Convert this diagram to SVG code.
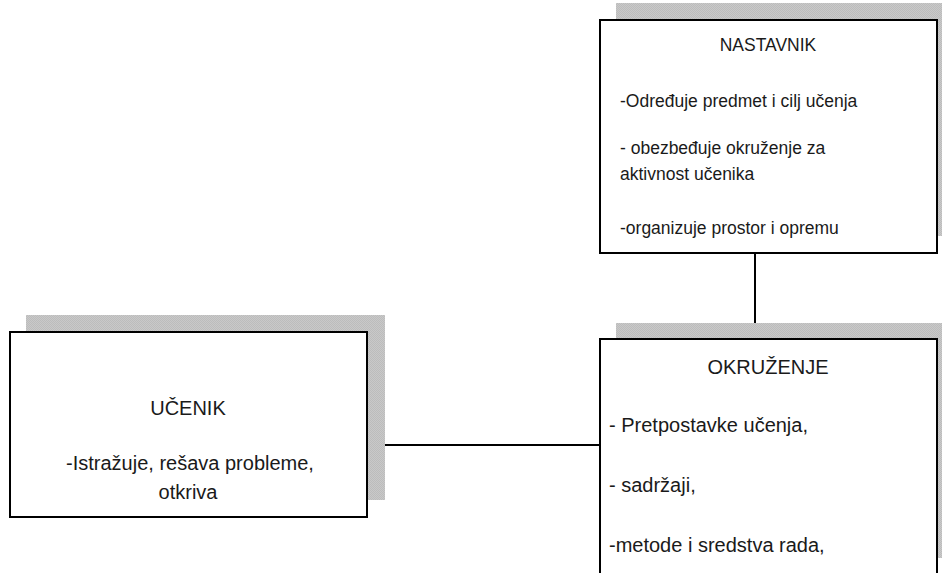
<svg xmlns="http://www.w3.org/2000/svg" width="942" height="573" viewBox="0 0 942 573">
<style>
.box{fill:#fff;stroke:#000;stroke-width:2}
.sh{fill:url(#chk)}
.t{font-family:"Liberation Sans",Arial,sans-serif;fill:#1a1a1a}
.s{font-size:17.5px}
.m{font-size:20px}
.c{text-anchor:middle}
.ln{stroke:#000;stroke-width:2;fill:none}
</style>
<defs>
<pattern id="chk" width="2" height="2" patternUnits="userSpaceOnUse">
<rect width="2" height="2" fill="#c9c9c9"/>
<rect width="1" height="1" fill="#bcbcbc"/>
<rect x="1" y="1" width="1" height="1" fill="#bcbcbc"/>
</pattern>
</defs>
<rect width="942" height="573" fill="#fff"/>
<g id="connectors">
<line class="ln" x1="755" y1="243" x2="755" y2="339"/>
<line class="ln" x1="378" y1="445" x2="600" y2="445"/>
</g>
<g id="nastavnik">
<rect class="sh" x="616" y="3" width="337" height="233"/>
<rect class="box" x="600" y="20" width="337" height="233"/>
<text class="t s c" x="768" y="51">NASTAVNIK</text>
<text class="t s" x="620" y="107">-Određuje predmet i cilj učenja</text>
<text class="t s" x="620" y="154">- obezbeđuje okruženje za</text>
<text class="t s" x="620" y="180">aktivnost učenika</text>
<text class="t s" x="620" y="234">-organizuje prostor i opremu</text>
</g>
<g id="okruzenje">
<rect class="sh" x="616" y="323" width="337" height="235"/>
<rect class="box" x="600" y="339" width="337" height="240"/>
<text class="t m c" x="768" y="374">OKRUŽENJE</text>
<text class="t m" x="609" y="432">- Pretpostavke učenja,</text>
<text class="t m" x="609" y="492">- sadržaji,</text>
<text class="t m" x="609" y="552">-metode i sredstva rada,</text>
</g>
<g id="ucenik">
<rect class="sh" x="26" y="315" width="359" height="185"/>
<rect class="box" x="10" y="332" width="357" height="185"/>
<text class="t m c" x="188" y="415">UČENIK</text>
<text class="t m c" x="190" y="470">-Istražuje, rešava probleme,</text>
<text class="t m c" x="188" y="499">otkriva</text>
</g>
</svg>
